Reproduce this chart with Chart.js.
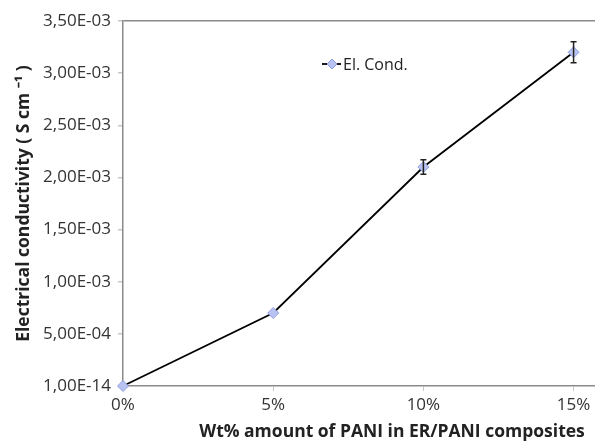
<!DOCTYPE html>
<html>
<head>
<meta charset="utf-8">
<script src="https://cdn.jsdelivr.net/npm/chart.js@4/dist/chart.umd.min.js"></script>
<style>
  html, body { margin: 0; padding: 0; background: #fff; overflow: hidden; }
  /* plot area in the original runs past the right edge of the picture */
  #wrap { width: 602px; height: 444px; }
</style>
</head>
<body>
<div id="wrap"><canvas id="chart"></canvas></div>
<script>
// data
const wtPercent = [0, 5, 10, 15];
const conductivity = [1e-14, 7.0e-4, 2.1e-3, 3.2e-3];
const conductivityErr = [0, 0, 0.07e-3, 0.1e-3];
const xTicks = [0, 5, 10, 15];
const yTicks = [1e-14, 5e-4, 1e-3, 1.5e-3, 2e-3, 2.5e-3, 3e-3, 3.5e-3];
const xTitle = 'Wt% amount of PANI in ER/PANI composites';

const FONT = "'Open Sans', sans-serif";
const AXIS_GREY = '#8a8a8a';

function fmtSci(v) {
    const parts = v.toExponential(2).split('e');
    const n = parseInt(parts[1], 10);
    return parts[0].replace('.', ',') + 'E' + (n < 0 ? '-' : '+') + String(Math.abs(n)).padStart(2, '0');
}

// error bars drawn from the data scale
const errorBars = {
    id: 'errorBars',
    afterDatasetsDraw(chart) {
        const { ctx, scales } = chart;
        ctx.save();
        ctx.strokeStyle = '#222';
        ctx.lineWidth = 1.5;
        conductivity.forEach((v, i) => {
            const e = conductivityErr[i];
            if (!e) return;
            const x = scales.x.getPixelForValue(wtPercent[i]);
            const y1 = scales.y.getPixelForValue(v + e);
            const y2 = scales.y.getPixelForValue(v - e);
            ctx.beginPath();
            ctx.moveTo(x, y1); ctx.lineTo(x, y2);
            ctx.moveTo(x - 3, y1); ctx.lineTo(x + 3, y1);
            ctx.moveTo(x - 3, y2); ctx.lineTo(x + 3, y2);
            ctx.stroke();
        });
        ctx.restore();
    }
};

// legend inside the plot + x title (centred further right, like the original)
const extras = {
    id: 'extras',
    afterDraw(chart) {
        const ctx = chart.ctx;
        const x = 322, y = 64;
        ctx.save();
        ctx.strokeStyle = '#000';
        ctx.lineWidth = 1.8;
        ctx.beginPath();
        ctx.moveTo(x, y); ctx.lineTo(x + 19, y);
        ctx.stroke();
        ctx.fillStyle = '#b9c3f2';
        ctx.strokeStyle = '#8e9fe0';
        ctx.lineWidth = 1;
        ctx.beginPath();
        ctx.moveTo(x + 10, y - 5); ctx.lineTo(x + 15, y);
        ctx.lineTo(x + 10, y + 5); ctx.lineTo(x + 5, y);
        ctx.closePath();
        ctx.fill(); ctx.stroke();
        ctx.fillStyle = '#222';
        ctx.font = "16px " + FONT;
        ctx.textBaseline = 'middle';
        ctx.fillText('El. Cond.', x + 21, y + 1);

        ctx.font = "bold 17.5px " + FONT;
        ctx.textAlign = 'center';
        ctx.fillText(xTitle, 392, 432);
        ctx.restore();
    }
};

new Chart(document.getElementById('chart'), {
    type: 'line',
    data: {
        datasets: [{
            label: 'El. Cond.',
            data: wtPercent.map((x, i) => ({ x: x, y: conductivity[i] })),
            borderColor: '#000',
            borderWidth: 1.8,
            pointStyle: 'rectRot',
            pointRadius: 5.5,
            pointBackgroundColor: '#b9c3f2',
            pointBorderColor: '#8e9fe0',
            pointBorderWidth: 1,
            tension: 0,
            clip: false
        }]
    },
    options: {
        responsive: true,
        maintainAspectRatio: false,
        animation: false,
        layout: { padding: { top: 21, right: 0, left: 0, bottom: 0 } },
        plugins: {
            legend: { display: false },
            tooltip: { enabled: false }
        },
        scales: {
            x: {
                type: 'linear',
                min: 0,
                max: 15.73,
                afterBuildTicks: axis => { axis.ticks = xTicks.map(v => ({ value: v })); },
                afterFit: axis => { axis.height = 58; },
                border: { color: AXIS_GREY, width: 1.5 },
                grid: { display: true, drawOnChartArea: false, drawTicks: true, tickLength: 5, tickColor: '#c8c8c8' },
                ticks: {
                    color: '#333',
                    font: { family: FONT, size: 17 },
                    padding: 4,
                    maxRotation: 0,
                    callback: v => v + '%'
                },
                title: { display: false }
            },
            y: {
                min: 1e-14,
                max: 3.5e-3,
                afterBuildTicks: axis => { axis.ticks = yTicks.map(v => ({ value: v })); },
                afterFit: axis => { axis.width = 123; },
                border: { color: AXIS_GREY, width: 1.5 },
                grid: {
                    drawTicks: true,
                    tickLength: 5,
                    tickColor: '#c8c8c8',
                    color: ctx => (ctx.tick && ctx.tick.value === 3.5e-3) ? AXIS_GREY : 'rgba(0,0,0,0)',
                    lineWidth: 1.5
                },
                ticks: {
                    color: '#333',
                    font: { family: FONT, size: 17 },
                    padding: 7,
                    callback: v => fmtSci(v)
                },
                title: {
                    display: true,
                    text: 'Electrical conductivity ( S cm \u207B\u00B9 )',
                    color: '#222',
                    font: { family: FONT, size: 17.5, weight: 'bold' },
                    padding: { top: 14, bottom: 0 }
                }
            }
        }
    },
    plugins: [errorBars, extras]
});
</script>
</body>
</html>
